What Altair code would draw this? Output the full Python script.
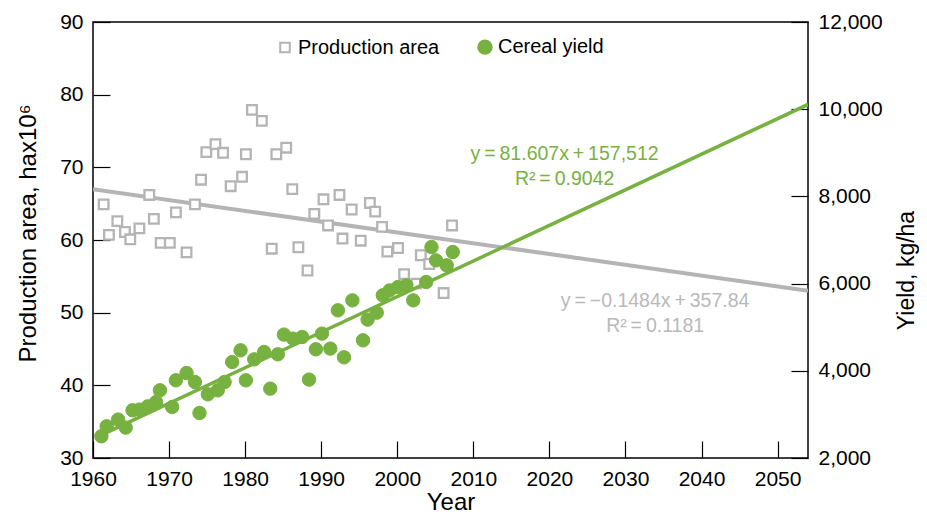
import altair as alt
import pandas as pd

FONT = "Liberation Sans"
GREEN = "#77b140"
GRAY = "#b4b4b4"

# ---- data ----
series_names = ["Production area", "Cereal yield"]

area_years = [1961.4, 1962.1, 1963.2, 1964.2, 1964.9, 1966.1, 1967.4, 1968.0, 1968.9, 1970.1,
              1970.9, 1972.3, 1973.4, 1974.2, 1974.9, 1976.1, 1977.1, 1978.1, 1979.6, 1980.1,
              1980.9, 1982.2, 1983.5, 1984.1, 1985.4, 1986.2, 1987.0, 1988.2, 1989.1, 1990.3,
              1990.9, 1992.4, 1992.8, 1994.0, 1995.2, 1996.4, 1997.1, 1998.0, 1998.7, 2000.1,
              2000.9, 2002.5, 2003.1, 2004.2, 2006.1, 2007.2]
area_vals = [64.9, 60.7, 62.6, 61.1, 60.1, 61.6, 66.2, 62.9, 59.6, 59.6,
             63.8, 58.3, 64.9, 68.3, 72.1, 73.2, 72.0, 67.4, 68.7, 71.8,
             77.9, 76.4, 58.8, 71.8, 72.7, 67.0, 59.0, 55.8, 63.6, 65.6,
             62.0, 66.2, 60.2, 64.2, 59.9, 65.1, 63.9, 61.8, 58.4, 58.9,
             55.3, 54.0, 57.9, 56.7, 52.7, 62.0]

yield_years = [1961.1, 1961.8, 1963.3, 1964.3, 1965.2, 1966.1, 1967.2, 1968.3, 1968.8, 1970.4,
               1970.9, 1972.3, 1973.4, 1974.0, 1975.1, 1976.4, 1977.3, 1978.3, 1979.4, 1980.1,
               1981.2, 1982.5, 1983.3, 1984.3, 1985.1, 1986.3, 1987.5, 1988.4, 1989.3, 1990.1,
               1991.2, 1992.2, 1993.0, 1994.1, 1995.5, 1996.1, 1997.3, 1998.1, 1999.0, 2000.1,
               2001.2, 2002.1, 2003.8, 2004.5, 2005.1, 2006.5, 2007.3]
yield_vals = [2498, 2727, 2881, 2697, 3094, 3110, 3185, 3284, 3552, 3169,
              3782, 3949, 3743, 3032, 3461, 3552, 3743, 4201, 4470, 3782,
              4263, 4431, 3591, 4378, 4830, 4738, 4775, 3798, 4493, 4853,
              4509, 5387, 4309, 5616, 4699, 5174, 5334, 5731, 5845, 5921,
              5960, 5616, 6036, 6838, 6533, 6419, 6724]

# trend lines as printed on the chart
yield_slope, yield_intercept = 81.607, -157512
area_slope, area_intercept = -0.1484, 357.84
yield_line_years = [1961, 2054]
area_line_years = [1960, 2054]

TS = "\u2009"  # thin space, as in the reference's spaced equations
yield_eq_labels = [f"y{TS}={TS}81.607x{TS}+{TS}157,512", f"R²{TS}={TS}0.9042"]
yield_eq_year = [2022.0, 2022.0]
yield_eq_val = [8980, 8407]
area_eq_labels = [f"y{TS}={TS}−0.1484x{TS}+{TS}357.84", f"R²{TS}={TS}0.1181"]
area_eq_year = [2033.9, 2033.9]
area_eq_val = [51.6, 48.1]

x_ticks = list(range(1960, 2051, 10))
left_ticks = [30, 40, 50, 60, 70, 80, 90]
right_ticks = [2000, 4000, 6000, 8000, 10000, 12000]

# ---- frames ----
area_df = pd.DataFrame({"year": area_years, "value": area_vals, "series": series_names[0]})
yield_df = pd.DataFrame({"year": yield_years, "value": yield_vals, "series": series_names[1]})
yield_line_df = pd.DataFrame({"year": yield_line_years})
area_line_df = pd.DataFrame({"year": area_line_years})
yield_eq_df = pd.DataFrame({"year": yield_eq_year, "value": yield_eq_val, "label": yield_eq_labels})
area_eq_df = pd.DataFrame({"year": area_eq_year, "value": area_eq_val, "label": area_eq_labels})

TICK = 17

x_enc = alt.X(
    "year:Q",
    scale=alt.Scale(domain=[1960, 2054], nice=False, zero=False),
    axis=alt.Axis(values=x_ticks, format="d", title="Year", orient="bottom",
                  offset=-TICK, tickSize=TICK, domain=False, labelPadding=10,
                  titlePadding=1, labelFlush=False, labelOverlap=False),
)

y_left = alt.Y(
    "value:Q",
    scale=alt.Scale(domain=[30, 90], nice=False, zero=False),
    axis=alt.Axis(values=left_ticks, title="Production area, hax10⁶", orient="left",
                  offset=-TICK, tickSize=TICK, domain=False, labelPadding=10,
                  titleX=-82, titleY=211, titleBaseline="middle",
                  labelFlush=False, labelOverlap=False),
)

y_right = alt.Y(
    "value:Q",
    scale=alt.Scale(domain=[2000, 12000], nice=False, zero=False),
    axis=alt.Axis(values=right_ticks, format=",.0f", title="Yield, kg/ha", orient="right",
                  offset=-TICK, tickSize=TICK, domain=False, labelPadding=10,
                  titleAngle=270, titleX=115, titleY=248, titleBaseline="middle",
                  titleFontSize=23, labelFlush=False, labelOverlap=False),
)

leg = alt.Legend(orient="none", legendX=182, legendY=15, direction="horizontal",
                 title=None, labelFontSize=20, labelFont=FONT, labelColor="black",
                 columnPadding=34, labelOffset=3, symbolStrokeWidth=2, padding=0)

fill_enc = alt.Fill("series:N", scale=alt.Scale(domain=series_names, range=["white", GREEN]), legend=leg)
stroke_enc = alt.Stroke("series:N", scale=alt.Scale(domain=series_names, range=[GRAY, GREEN]), legend=leg)
shape_enc = alt.Shape("series:N", scale=alt.Scale(domain=series_names, range=["square", "circle"]), legend=leg)
size_enc = alt.Size("series:N", scale=alt.Scale(domain=series_names, range=[92, 180]), legend=leg)

circles = alt.Chart(yield_df).mark_point(filled=True, opacity=1, strokeWidth=1).encode(
    x=x_enc, y=y_right, fill=fill_enc, stroke=stroke_enc, shape=shape_enc, size=size_enc
)
green_line = alt.Chart(yield_line_df).transform_calculate(
    value=f"{yield_slope} * datum.year + ({yield_intercept})"
).mark_line(color=GREEN, strokeWidth=3.5, clip=True).encode(x=x_enc, y=y_right)
green_text = alt.Chart(yield_eq_df).mark_text(font=FONT, fontSize=19.5, color=GREEN).encode(
    x=x_enc, y=y_right, text="label:N"
)

gray_line = alt.Chart(area_line_df).transform_calculate(
    value=f"{area_slope} * datum.year + {area_intercept}"
).mark_line(color=GRAY, strokeWidth=4, clip=True).encode(x=x_enc, y=y_left)
squares = alt.Chart(area_df).mark_point(filled=True, opacity=1, strokeWidth=2.3).encode(
    x=x_enc, y=y_left, fill=fill_enc, stroke=stroke_enc, shape=shape_enc, size=size_enc
)
gray_text = alt.Chart(area_eq_df).mark_text(font=FONT, fontSize=19.5, color="#b9b9b9").encode(
    x=x_enc, y=y_left, text="label:N"
)

gray_layer = alt.layer(gray_line, squares, gray_text)
green_layer = alt.layer(circles, green_line, green_text)

chart = alt.layer(gray_layer, green_layer).resolve_scale(y="independent").properties(
    width=715,
    height=436,
    padding={"left": 85, "top": 14, "right": 111, "bottom": 56},
    autosize=alt.AutoSizeParams(type="none"),
).configure_view(
    stroke="black", strokeWidth=1.5
).configure_axis(
    labelFont=FONT, titleFont=FONT, labelFontSize=21, titleFontSize=24,
    labelColor="black", titleColor="black", tickColor="black", tickWidth=1.2,
    titleFontWeight="normal", grid=False,
)

chart.save("out.html", embed_options={"renderer": "svg", "actions": False})
